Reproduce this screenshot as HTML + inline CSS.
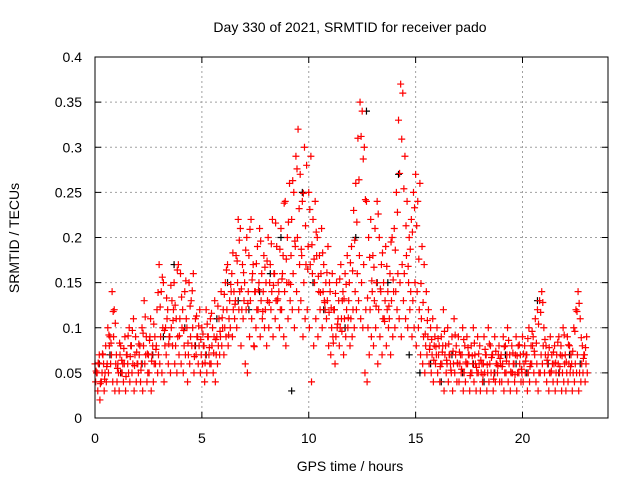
<!DOCTYPE html>
<html><head><meta charset="utf-8"><style>
body{margin:0;background:#fff}
svg{display:block;font-family:"Liberation Sans",sans-serif}
</style></head><body>
<svg id="c" width="640" height="480">
<text x="350" y="32" font-size="14" text-anchor="middle">Day 330 of 2021, SRMTID for receiver pado</text>
<text x="350" y="471" font-size="14" text-anchor="middle">GPS time / hours</text>
<text transform="translate(19,238) rotate(-90)" font-size="14" text-anchor="middle">SRMTID / TECUs</text>
<g id="grid"></g><g id="ticks"></g><g id="marks"></g>
<rect x="95" y="57" width="513" height="361" fill="none" stroke="#000" stroke-width="1"/>
</svg>
<script>
const xTicks=[0,5,10,15,20];
const yTicks=[0,0.05,0.1,0.15,0.2,0.25,0.3,0.35,0.4];
const yTickLabels=["0","0.05","0.1","0.15","0.2","0.25","0.3","0.35","0.4"];
const redUpper=[.06,.05,.07,.04,.06,.08,.10,.09,.14,.12,.07,.05,.08,.06,.09,.07,.10,.08,.11,.09,.06,.08,.10,.13,.09,.07,.11,.08,.09,.12,.17,.14,.15,.10,.12,.09,.13,.15,.11,.17,.16,.12,.14,.10,.15,.13,.16,.11,.09,.12,.10,.08,.12,.09,.11,.10,.13,.09,.11,.14,.12,.15,.17,.13,.16,.14,.18,.22,.21,.17,.15,.20,.18,.22,.17,.14,.19,.21,.16,.18,.15,.20,.17,.22,.16,.19,.14,.21,.18,.24,.20,.26,.22,.25,.29,.32,.27,.24,.30,.28,.25,.29,.22,.24,.20,.18,.21,.17,.15,.19,.14,.16,.12,.15,.13,.17,.14,.16,.18,.15,.19,.23,.26,.31,.35,.34,.30,.24,.20,.22,.18,.21,.24,.20,.17,.15,.19,.14,.16,.20,.21,.25,.33,.37,.36,.29,.24,.20,.22,.25,.27,.24,.26,.19,.17,.14,.12,.10,.11,.09,.10,.08,.09,.12,.08,.10,.07,.09,.11,.08,.09,.07,.10,.08,.09,.07,.08,.10,.06,.09,.08,.06,.09,.07,.10,.08,.07,.09,.06,.08,.07,.09,.08,.10,.07,.08,.06,.09,.08,.07,.09,.08,.07,.10,.08,.09,.11,.12,.13,.14,.10,.08,.07,.09,.06,.08,.07,.09,.08,.10,.07,.09,.08,.06,.10,.12,.14,.11,.08,.07,.09];
const redLower=[.04,.03,.02,.05,.03,.04,.05,.06,.04,.03,.04,.03,.05,.04,.03,.06,.04,.05,.03,.04,.05,.04,.03,.06,.04,.05,.03,.04,.06,.05,.06,.05,.04,.07,.06,.05,.08,.06,.05,.07,.06,.05,.07,.04,.06,.08,.05,.07,.06,.05,.06,.04,.05,.07,.06,.05,.04,.06,.07,.08,.07,.09,.08,.10,.09,.11,.10,.12,.08,.11,.06,.05,.09,.11,.08,.10,.12,.09,.11,.10,.08,.10,.12,.09,.11,.13,.10,.12,.09,.08,.11,.13,.12,.10,.14,.12,.13,.09,.11,.12,.10,.04,.08,.11,.09,.12,.10,.13,.11,.08,.07,.09,.06,.10,.08,.11,.07,.09,.10,.08,.09,.10,.12,.13,.11,.10,.05,.04,.07,.09,.08,.10,.06,.09,.07,.11,.08,.10,.07,.09,.10,.12,.11,.09,.13,.11,.10,.12,.09,.10,.08,.10,.07,.06,.05,.07,.06,.05,.04,.06,.05,.04,.06,.03,.05,.04,.06,.03,.05,.04,.04,.05,.03,.04,.06,.03,.05,.04,.03,.05,.03,.04,.05,.03,.04,.05,.03,.04,.05,.04,.04,.03,.05,.04,.03,.05,.04,.03,.05,.04,.04,.05,.03,.04,.06,.05,.04,.03,.05,.06,.05,.04,.03,.05,.04,.03,.04,.05,.03,.04,.03,.04,.05,.03,.04,.05,.03,.04,.05,.04,.05];
const redMid=[.05,.06,.04,.07,.05,.06,.08,.07,.09,.06,.06,.07,.05,.06,.07,.05,.08,.06,.07,.06,.07,.06,.08,.07,.05,.09,.07,.06,.08,.07,.09,.10,.08,.11,.09,.10,.12,.08,.09,.11,.10,.08,.11,.07,.09,.10,.08,.09,.08,.07,.08,.07,.09,.06,.08,.09,.07,.08,.09,.10,.10,.12,.11,.14,.12,.13,.15,.14,.12,.13,.12,.14,.13,.16,.14,.12,.15,.13,.14,.12,.13,.15,.14,.16,.13,.15,.12,.16,.14,.15,.15,.18,.16,.19,.20,.17,.18,.15,.17,.19,.17,.16,.15,.18,.14,.16,.14,.12,.13,.15,.10,.12,.09,.11,.10,.13,.11,.12,.13,.11,.12,.14,.16,.18,.15,.17,.12,.10,.12,.14,.13,.15,.12,.14,.11,.13,.12,.11,.13,.14,.14,.16,.15,.17,.16,.18,.15,.14,.13,.15,.14,.12,.11,.09,.08,.09,.08,.07,.08,.07,.07,.06,.08,.07,.06,.07,.05,.06,.07,.06,.06,.07,.05,.06,.07,.05,.06,.07,.05,.06,.05,.06,.07,.05,.06,.07,.05,.06,.07,.06,.06,.05,.07,.06,.05,.06,.07,.05,.06,.05,.06,.07,.05,.06,.08,.07,.06,.05,.07,.08,.07,.06,.05,.07,.06,.05,.06,.07,.05,.06,.05,.06,.07,.05,.06,.07,.05,.06,.07,.06];
const redExtra=[.052,.061,.038,.071,.043,.057,.092,.083,.118,.105,.055,.083,.064,.077,.046,.091,.068,.097,.058,.073,.082,.053,.094,.112,.071,.086,.063,.104,.076,.139,.123,.156,.097,.133,.082,.147,.108,.125,.164,.091,.134,.097,.152,.083,.124,.141,.068,.113,.102,.087,.093,.061,.104,.078,.116,.072,.087,.124,.096,.111,.137,.164,.092,.148,.183,.126,.174,.197,.143,.161,.186,.127,.209,.153,.079,.171,.142,.196,.118,.167,.174,.128,.193,.147,.216,.132,.187,.154,.238,.176,.217,.148,.263,.196,.276,.232,.187,.249,.213,.165,.231,.192,.176,.206,.157,.139,.183,.128,.161,.117,.122,.083,.138,.104,.154,.096,.132,.148,.111,.172,.163,.197,.217,.264,.312,.287,.242,.133,.178,.152,.167,.124,.226,.143,.183,.107,.168,.124,.195,.153,.186,.228,.271,.309,.254,.213,.168,.187,.206,.233,.213,.176,.149,.128,.093,.108,.076,.087,.064,.079,.088,.057,.073,.096,.064,.082,.053,.074,.092,.061,.073,.054,.087,.062,.078,.047,.069,.083,.056,.071,.064,.048,.076,.059,.082,.067,.043,.074,.058,.066,.057,.079,.063,.086,.051,.072,.048,.069,.081,.054,.071,.063,.088,.057,.096,.074,.083,.104,.117,.128,.087,.064,.078,.052,.073,.061,.084,.057,.069,.092,.062,.081,.057,.074,.096,.118,.127,.089,.066,.078];
const blackVals=[.06,.07,.05,.08,.06,.07,.09,.17,.10,.08,.07,.11,.15,.13,.12,.14,.16,.20,.03,.25,.15,.12,.12,.10,.20,.34,.15,.15,.27,.07,.05,.06,.04,.07,.05,.06,.04,.05,.07,.06,.05,.13,.06,.05,.07,.06];
const X0=95,X1=608,Y0=418,Y1=57;
const xs=t=>X0+(t/24)*(X1-X0);
const ys=v=>Y0-(v/0.4)*(Y0-Y1);
const NS="http://www.w3.org/2000/svg";
const grid=document.getElementById('grid'),ticks=document.getElementById('ticks'),marks=document.getElementById('marks');
function mk(tag,attrs,parent){const e=document.createElementNS(NS,tag);for(const k in attrs)e.setAttribute(k,attrs[k]);parent.appendChild(e);return e;}
xTicks.forEach(t=>{const x=xs(t);
 if(t>0){const g=mk('line',{x1:x,x2:x,y1:Y0,y2:Y1,stroke:'#a0a0a0','stroke-dasharray':'2,3'},grid);
 
 }
 mk('line',{x1:x,x2:x,y1:Y0,y2:Y0-6,stroke:'#000'},ticks);mk('line',{x1:x,x2:x,y1:Y1,y2:Y1+6,stroke:'#000'},ticks);
 const l=mk('text',{x:x,y:Y0+25,'font-size':14,'text-anchor':'middle'},ticks);l.textContent=t;
 
 });
yTicks.forEach((v,i)=>{const y=ys(v);
 if(i>0&&i<yTicks.length-1){const g=mk('line',{x1:X0,x2:X1,y1:y,y2:y,stroke:'#a0a0a0','stroke-dasharray':'2,3'},grid);
 
 }
 mk('line',{x1:X0,x2:X0+6,y1:y,y2:y,stroke:'#000'},ticks);mk('line',{x1:X1,x2:X1-6,y1:y,y2:y,stroke:'#000'},ticks);
 const l=mk('text',{x:X0-13,y:y+5,'font-size':14,'text-anchor':'end'},ticks);l.textContent=yTickLabels[i];
 
 });
function plot(vals,t0,step,color,name){let d='';
 vals.forEach((v,i)=>{const x=xs(t0+i*step),y=ys(v);d+=`M${x-3.5},${y}h7M${x},${y-3.5}v7`;});
 const p=mk('path',{d:d,stroke:color,'stroke-width':1.2,fill:'none'},marks);
 
 }
plot(blackVals,0.2,0.5,'#000','black-series-points');
plot(redLower,0.03,0.1,'#f00','red-series-points-low');
plot(redMid,0.07,0.1,'#f00','red-series-points-mid');
plot(redExtra,0.05,0.1,'#f00','red-series-points-extra');
plot(redUpper,0,0.1,'#f00','red-series-points-high');
</script>
</body></html>
